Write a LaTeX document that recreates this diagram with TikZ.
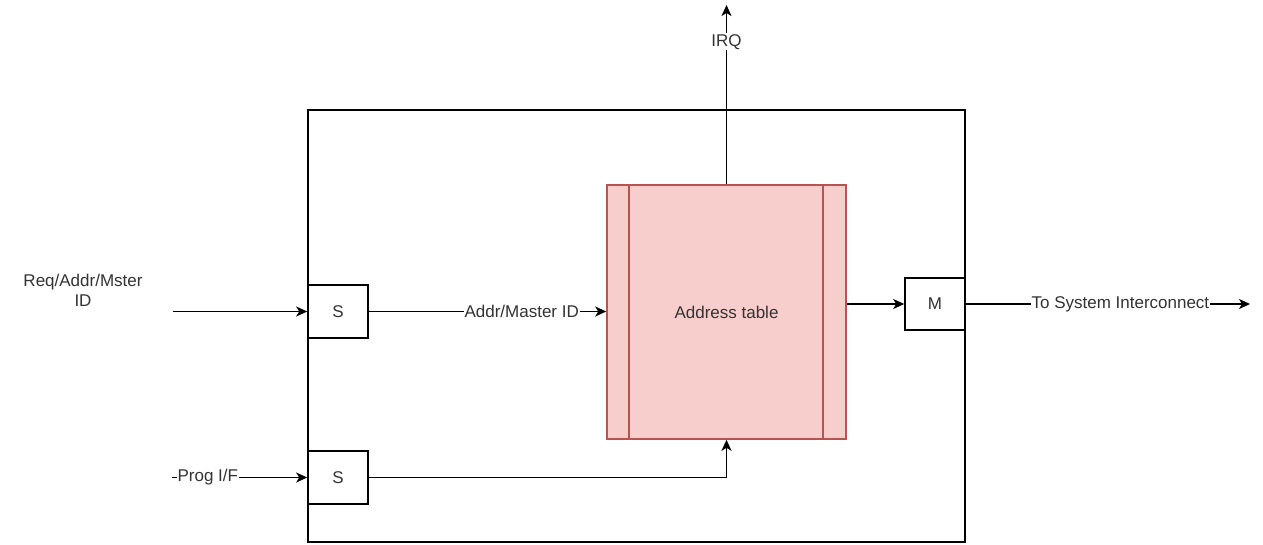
\documentclass[tikz,border=0pt]{standalone}
\usepackage{fontspec}
\setmainfont{Liberation Sans}
\usetikzlibrary{arrows.meta}
\definecolor{tblfill}{HTML}{F8CECC}
\definecolor{tbldraw}{HTML}{B85450}
\definecolor{txt}{HTML}{333333}
\begin{document}
\begin{tikzpicture}[x=1pt,y=-1pt,
  every node/.style={font=\fontsize{17}{20}\selectfont, text=txt},
  box/.style={draw=black, fill=white, line width=1.6pt, minimum width=60pt, minimum height=53pt, inner sep=0pt},
  conn/.style={draw=black, line width=1.6pt, -{Stealth[length=11pt,width=10pt,inset=3pt]}},
  lab/.style={fill=white, inner sep=1pt}]
\useasboundingbox (0,0) rectangle (1263,544);
\node[draw=black, line width=1.6pt, minimum width=657pt, minimum height=432pt, inner sep=0pt] (outer) at (636.5,326) {};
\node[draw=tbldraw, fill=tblfill, line width=1.6pt, minimum width=239pt, minimum height=254pt, inner sep=0pt] (tbl) at (726.5,312) {Address table};
\draw[tbldraw, line width=1.6pt] ([xshift=23pt]tbl.north west) -- ([xshift=23pt]tbl.south west);
\draw[tbldraw, line width=1.6pt] ([xshift=-24pt]tbl.north east) -- ([xshift=-24pt]tbl.south east);
\node[box] (s1) at (338,311.5) {S};
\node[box] (s2) at (338,477.5) {S};
\node[box, minimum height=52pt] (m) at (935,304) {M};
\node[align=center] (req) at (83,290) {Req/Addr/Mster\\ID};
\coordinate (reqin) at (173,311.5);
\coordinate (progin) at (172,477.5);
\coordinate (irqout) at (726.5,5);
\coordinate (sysout) at (1250,304);
\draw[conn] (reqin) -- (s1.west);
\draw[conn] (s1.east) -- node[lab, pos=0.644] (addrlab) {Addr/Master ID} (tbl.west |- s1.east);
\draw[conn] (progin) -- node[lab, pos=0.265] (proglab) {Prog I/F} (s2.west);
\draw[conn] (s2.east) -| (tbl.south);
\draw[conn] (tbl.north) -- node[lab, pos=0.794] (irqlab) {IRQ} (irqout);
\draw[conn] (m.west -| tbl.east) -- (m.west);
\draw[conn] (m.east) -- node[lab, pos=0.544] (syslab) {To System Interconnect} (sysout);
\end{tikzpicture}
\end{document}
